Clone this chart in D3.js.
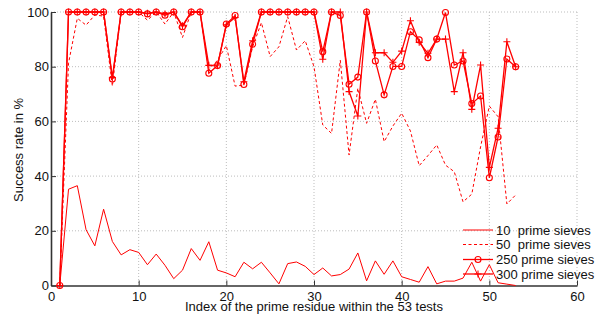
<!DOCTYPE html>
<html><head><meta charset="utf-8">
<script src="https://cdn.jsdelivr.net/npm/d3@7"></script>
<style>body{margin:0;background:#fff}text{font-family:"Liberation Sans",Arial,sans-serif}</style>
</head><body><svg id="c" width="597" height="321"></svg>
<script>
const xTicks=[0,10,20,30,40,50,60];
const yTicks=[0,20,40,60,80,100];
const seriesNames=["10  prime sieves","50  prime sieves","250 prime sieves","300 prime sieves"];
const s10=[0,35.2,36.5,20.4,14.5,27.9,16.1,11.2,13.1,12.1,7.6,11.5,7.4,2.5,5.6,13.5,9.2,16,5.6,4.6,3.2,8.5,6.1,8.5,4.6,0.6,8,8.6,7,4,6.4,3.5,4,6,11.9,1.7,9,4.1,9,3.2,2.2,1.2,6.9,0.6,1.6,1.6,2.7,8.5,1.6,7.6,1,0.5,0];
const s50=[0,81.3,97.7,95.2,98.9,98.5,72.9,100,100,100,97,100,95.6,100,90.7,100,100,78.8,82.4,87.7,72.9,73.3,87.3,96.1,83.7,87.3,98.3,86.1,89.5,80,58.7,55.6,82.4,47.7,72.1,59.3,68.1,52.6,58.3,63,56.5,43.8,47.5,51.4,44,41.6,30.6,33.4,50.7,65.6,61.7,29.8,33.1];
const s250=[0,100,100,100,100,100,75.5,100,100,100,99.3,100,98.8,100,94.6,100,100,77.6,80.4,95.6,98.7,73.5,88.2,100,100,100,100,100,100,100,85.5,100,98.7,73.6,76.2,100,82.1,69.7,80.1,80.1,92.8,89.8,83.3,90.1,99.8,80.6,82.1,66.5,69.3,39.4,54.3,82.8,80];
const s300=[0,100,100,100,100,100,76,100,100,100,99.5,100,99.3,100,95,100,100,80.5,80.6,95.3,98,74.5,89.5,100,100,100,100,100,100,100,82.7,100,100,70.9,62,100,85.1,85.1,81.6,85.7,96.8,88.9,84.9,90.1,90.1,70.9,85.1,64.4,80.6,43.2,57.5,89.1,80];

const svg=d3.select("#c");
const L=51,R=577,T=12,B=285.5;
const x=d3.scaleLinear().domain([0,60]).range([L,R]);
const y=d3.scaleLinear().domain([0,100]).range([B,T]);
const red="#ff0000";

// grid
const g=svg.append("g");
g.selectAll(".gx").data(xTicks.slice(1)).enter().append("line")
 .attr("x1",d=>x(d)).attr("x2",d=>x(d)).attr("y1",T).attr("y2",B)
 .attr("stroke","#bdbdbd").attr("stroke-width",1).attr("stroke-dasharray","1,2");
g.selectAll(".gy").data(yTicks.slice(1)).enter().append("line")
 .attr("x1",L).attr("x2",R).attr("y1",d=>y(d)).attr("y2",d=>y(d))
 .attr("stroke","#bdbdbd").attr("stroke-width",1).attr("stroke-dasharray","1,2");

// axes
const xa=svg.append("g").attr("transform",`translate(0,${B})`)
 .call(d3.axisBottom(x).tickValues(xTicks).tickSize(-5).tickPadding(6).tickSizeOuter(0));
const ya=svg.append("g").attr("transform",`translate(${L},0)`)
 .call(d3.axisLeft(y).tickValues(yTicks).tickSize(-5).tickPadding(2).tickSizeOuter(0));
[xa,ya].forEach(a=>{
 a.select(".domain").attr("stroke","#333").attr("stroke-width",1.6);
 a.selectAll(".tick line").attr("stroke","#333");
 a.selectAll("text").attr("font-size",13).attr("fill","#111").style("font-family","Liberation Sans, Arial, sans-serif");
});

svg.append("text").attr("x",(L+R)/2).attr("y",311).attr("text-anchor","middle")
 .attr("font-size",13).attr("fill","#111").text("Index of the prime residue within the 53 tests");
svg.append("text").attr("transform","translate(23,150) rotate(-90)").attr("text-anchor","middle")
 .attr("font-size",13).attr("fill","#111").text("Success rate in %");

const line=d3.line().x((d,i)=>x(i+1)).y(d=>y(d));
const plot=svg.append("g");
plot.append("path").datum(s50).attr("d",line).attr("fill","none").attr("stroke",red).attr("stroke-width",1).attr("stroke-dasharray","3,2.5");
plot.append("path").datum(s10).attr("d",line).attr("fill","none").attr("stroke",red).attr("stroke-width",1);
plot.append("path").datum(s300).attr("d",line).attr("fill","none").attr("stroke",red).attr("stroke-width",1.3);
plot.append("path").datum(s250).attr("d",line).attr("fill","none").attr("stroke",red).attr("stroke-width",1.3);
plot.selectAll(".c").data(s250).enter().append("circle")
 .attr("cx",(d,i)=>x(i+1)).attr("cy",d=>y(d)).attr("r",3).attr("fill","none").attr("stroke",red).attr("stroke-width",1.1);
plot.selectAll(".p").data(s300).enter().append("path")
 .attr("transform",(d,i)=>`translate(${x(i+1)},${y(d)})`)
 .attr("d","M-3.5,0H3.5M0,-3.5V3.5").attr("stroke",red).attr("stroke-width",1.1);

// legend
const lg=svg.append("g");
const rowsY=[230,244.5,259.5,274];
seriesNames.forEach((nm,i)=>{
 const yy=rowsY[i];
 const ln=lg.append("line").attr("x1",463).attr("x2",493).attr("y1",yy).attr("y2",yy)
  .attr("stroke",red).attr("stroke-width",i>=2?1.3:1);
 if(i===1) ln.attr("stroke-dasharray","3,2.5");
 if(i===2) lg.append("circle").attr("cx",478).attr("cy",yy).attr("r",3).attr("fill","none").attr("stroke",red).attr("stroke-width",1.1);
 if(i===3) lg.append("path").attr("transform",`translate(478,${yy})`).attr("d","M-3.5,0H3.5M0,-3.5V3.5").attr("stroke",red).attr("stroke-width",1.1);
 lg.append("text").attr("x",496).attr("y",yy+4.5).attr("font-size",13).attr("fill","#111")
  .style("white-space","pre").attr("xml:space","preserve").text(nm);
});
</script></body></html>
